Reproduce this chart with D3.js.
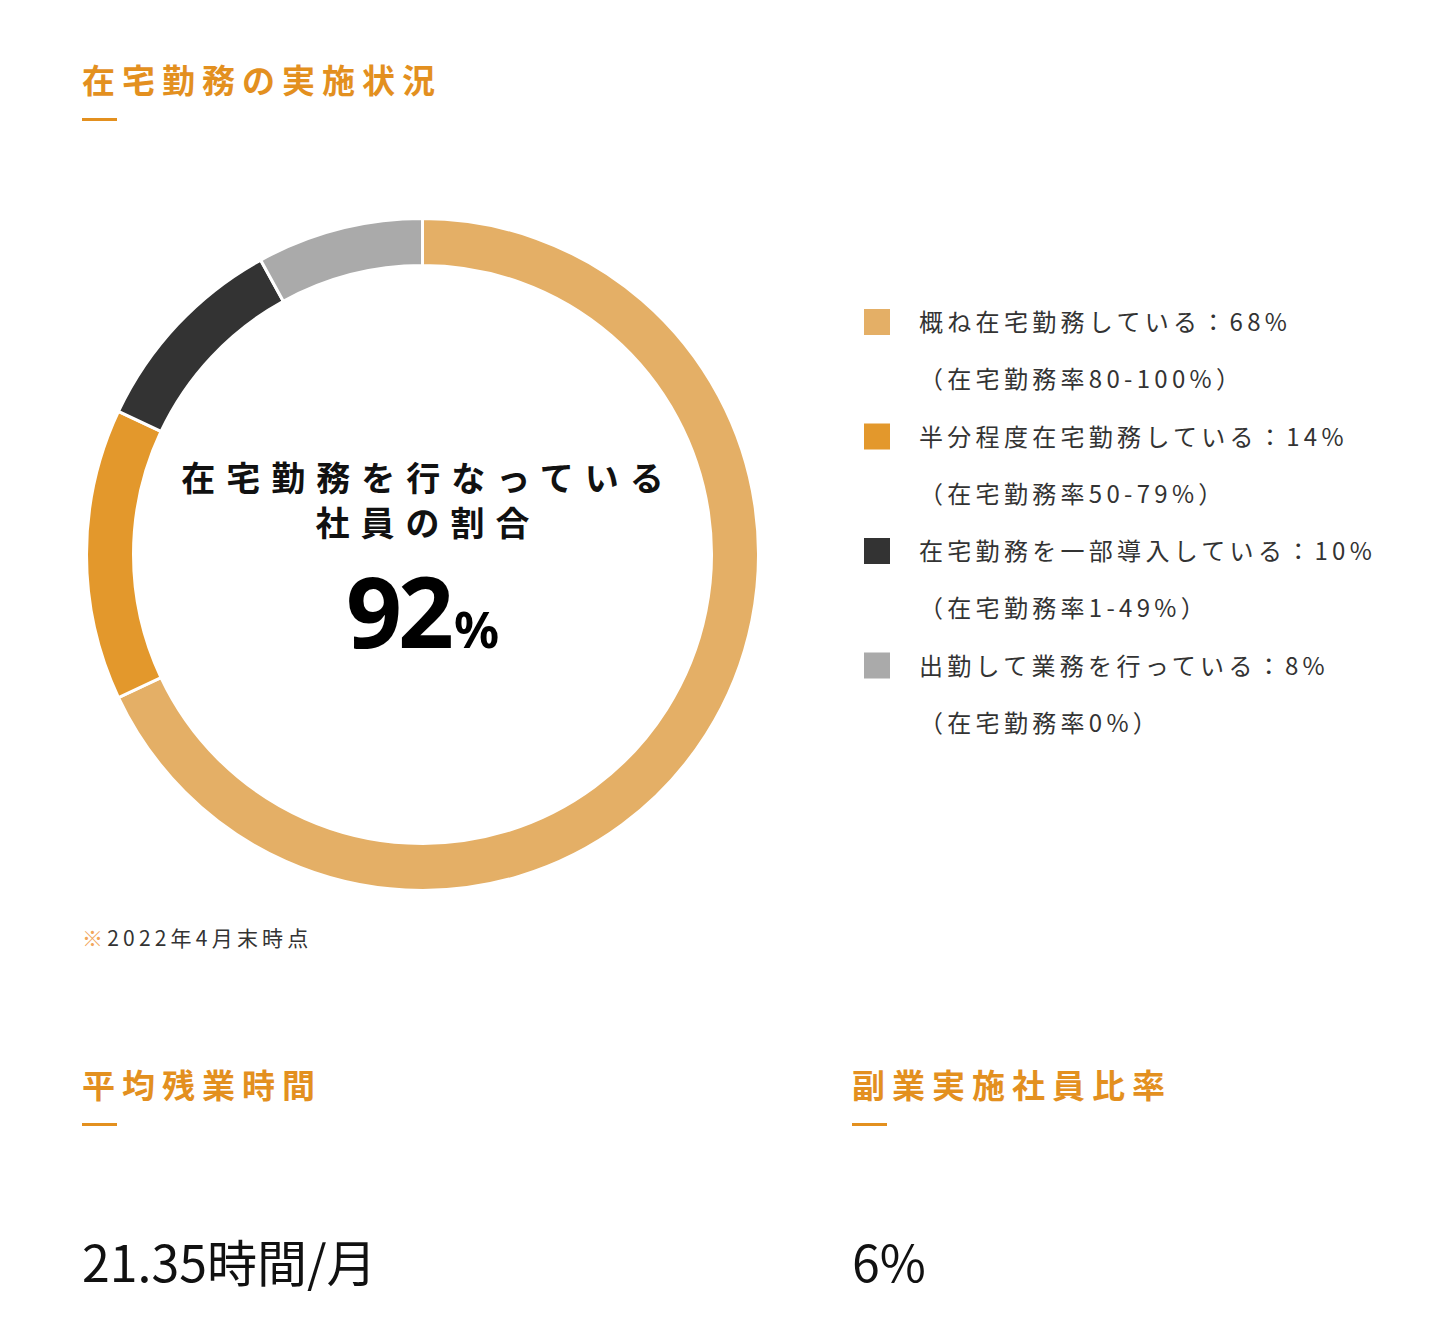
<!DOCTYPE html>
<html lang="ja">
<head>
<meta charset="utf-8">
<script src="https://cdn.jsdelivr.net/npm/d3@7"></script>
<style>
  html, body { margin: 0; padding: 0; background: #fff; }
  svg { display: block; }
  text { font-family: "Noto Sans CJK JP", "Noto Sans", sans-serif; }
</style>
</head>
<body>
<svg id="chart" width="1440" height="1342"></svg>
<script>
// ---- data ----
const categories = ["概ね在宅勤務している", "半分程度在宅勤務している", "在宅勤務を一部導入している", "出勤して業務を行っている"];
const values = [68, 14, 10, 8];
const subLabels = ["（在宅勤務率80-100%）", "（在宅勤務率50-79%）", "（在宅勤務率1-49%）", "（在宅勤務率0%）"];
const palette = ["#E4AF66", "#E3982C", "#333333", "#AAAAAA"];
const title = "在宅勤務の実施状況";
const centerLines = ["在宅勤務を行なっている", "社員の割合"];
const centerValue = "92";
const note = "2022年4月末時点";
const statTitles = ["平均残業時間", "副業実施社員比率"];
const statValues = ["21.35時間/月", "6%"];

const orange = "#E3901F";
const svg = d3.select("#chart");

// ---- title ----
function sectionTitle(x, y, txt) {
  svg.append("text").attr("x", x).attr("y", y)
    .attr("fill", orange).attr("font-size", 33).attr("font-weight", 700)
    .attr("letter-spacing", 7).text(txt);
  svg.append("rect").attr("x", x).attr("y", y + 25).attr("width", 35).attr("height", 3).attr("fill", orange);
}
sectionTitle(82, 93, title);

// ---- donut ----
const cx = 422.5, cy = 554.5;
const data = categories.map((c, i) => ({ cat: c, value: values[i], sub: subLabels[i], color: palette[i] }));
const pie = d3.pie().value(d => d.value).sort(null).startAngle(0).endAngle(2 * Math.PI);
const arc = d3.arc().innerRadius(289).outerRadius(336);
const g = svg.append("g").attr("transform", `translate(${cx},${cy})`);
g.selectAll("path").data(pie(data)).join("path")
  .attr("d", arc).attr("fill", d => d.data.color)
  .attr("stroke", "#fff").attr("stroke-width", 3);

// center label: one multi-line text block
const ct = g.append("text").attr("text-anchor", "middle");
centerLines.forEach((t, i) => {
  ct.append("tspan").attr("x", 5.5).attr("y", -64 + i * 45)
    .attr("fill", "#111").attr("font-size", 34).attr("font-weight", 700).attr("letter-spacing", 11)
    .text(t);
});
ct.append("tspan").attr("x", 0).attr("y", 93.5)
  .attr("fill", "#000").attr("font-family", "'Noto Sans', sans-serif").attr("font-weight", 700)
  .attr("font-size", 98).attr("letter-spacing", -4).text(centerValue);
ct.append("tspan").attr("dx", 4)
  .attr("fill", "#000").attr("font-family", "'Noto Sans', sans-serif").attr("font-weight", 700)
  .attr("font-size", 50).text("%");

// ---- legend ----
const lg = svg.append("g").attr("transform", "translate(864,0)");
data.forEach((d, i) => {
  const y0 = 322 + i * 114.5;
  lg.append("rect").attr("x", 0).attr("y", y0 - 13).attr("width", 26).attr("height", 26).attr("fill", d.color);
  lg.append("text").attr("x", 55).attr("y", y0 + 9).attr("fill", "#333")
    .attr("font-size", 24).attr("letter-spacing", 4.3)
    .text(`${d.cat}：${d.value}%`);
  lg.append("text").attr("x", 55).attr("y", y0 + 66).attr("fill", "#333")
    .attr("font-size", 24).attr("letter-spacing", 4.3)
    .text(d.sub);
});

// ---- note ----
const nt = svg.append("text").attr("x", 82).attr("y", 946).attr("font-size", 21).attr("letter-spacing", 4.2).attr("fill", "#333");
nt.append("tspan").attr("fill", "#F2A65A").text("※");
nt.append("tspan").text(note);

// ---- stats ----
[82, 852].forEach((x, i) => {
  sectionTitle(x, 1098, statTitles[i]);
  svg.append("text").attr("x", x).attr("y", 1282).attr("fill", "#111")
    .attr("font-size", 50).attr("font-weight", 400).text(statValues[i]);
});
</script>
</body>
</html>
